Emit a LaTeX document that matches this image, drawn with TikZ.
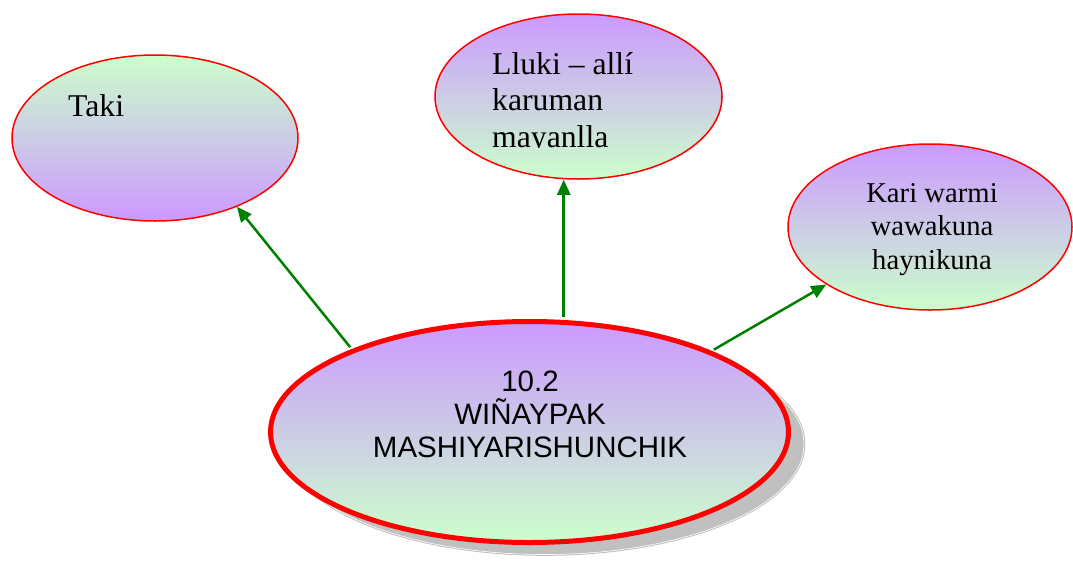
\documentclass[tikz,border=0pt]{standalone}
\usepackage{fontspec}
\setmainfont{Liberation Serif}
\setsansfont{Liberation Sans}
\usetikzlibrary{shapes.geometric,arrows.meta}
\definecolor{lila}{HTML}{CC99FF}
\definecolor{verde}{HTML}{CCFFCC}
\definecolor{flecha}{HTML}{008000}
\definecolor{sombra}{HTML}{C0C0C0}

\begin{document}
\begin{tikzpicture}[x=1pt,y=-1pt,
        burbuja/.style={shape=ellipse,draw=red,line width=1.5pt,inner sep=0pt,minimum width=286pt,minimum height=166pt},
        arriba/.style={top color=lila,bottom color=verde},
        abajo/.style={top color=verde,bottom color=lila},
        texto/.style={inner sep=0pt,font=\fontsize{31.7}{36.5}\selectfont,align=left},
        flechas/.style={-{Triangle[length=15pt,width=13pt]},line width=2.5pt,color=flecha}]
        \useasboundingbox (0,0) rectangle (1073,560);
        \node[shape=ellipse,minimum width=518pt,minimum height=221pt,fill=sombra,draw=sombra,double=white,double distance=0.6pt,line width=1pt] (S) at (545,444) {};
        \node[burbuja,arriba,line width=5pt,minimum width=518pt,minimum height=221pt] (W) at (529.5,432) {};
        \node[burbuja,abajo] (T) at (155,138) {};
        \node[burbuja,arriba,minimum width=287pt,minimum height=165pt] (L) at (578.5,96.5) {};
        \node[burbuja,arriba,minimum width=284pt] (K) at (930,227) {};
        \node[texto,anchor=base west] (taki) at (68,116) {Taki};
        \begin{scope}
            \clip (470,30) rectangle (700,147);
            \node[texto,anchor=base west] (lluki) at (492,147) {Lluki – allí\\karuman\\mayanlla};
        \end{scope}
        \node[texto,align=center,font=\fontsize{28.7}{33.5}\selectfont,anchor=base] (kari) at (932,269) {Kari warmi\\wawakuna\\haynikuna};
        \node[inner sep=0pt,align=center,font=\sffamily\fontsize{29.5}{33}\selectfont,anchor=base] (wina) at (530,457) {10.2\\WIÑAYPAK\\MASHIYARISHUNCHIK};
        \path [flechas,shorten <=2.5pt] (W.155) edge (T.-40);
        \path [flechas,shorten <=2.5pt] (W.73) edge (W.73 |- L.south);
        \path [flechas,shorten <=2.5pt] (W.24) edge (K.-151.5);
    \end{tikzpicture}
\end{document}
